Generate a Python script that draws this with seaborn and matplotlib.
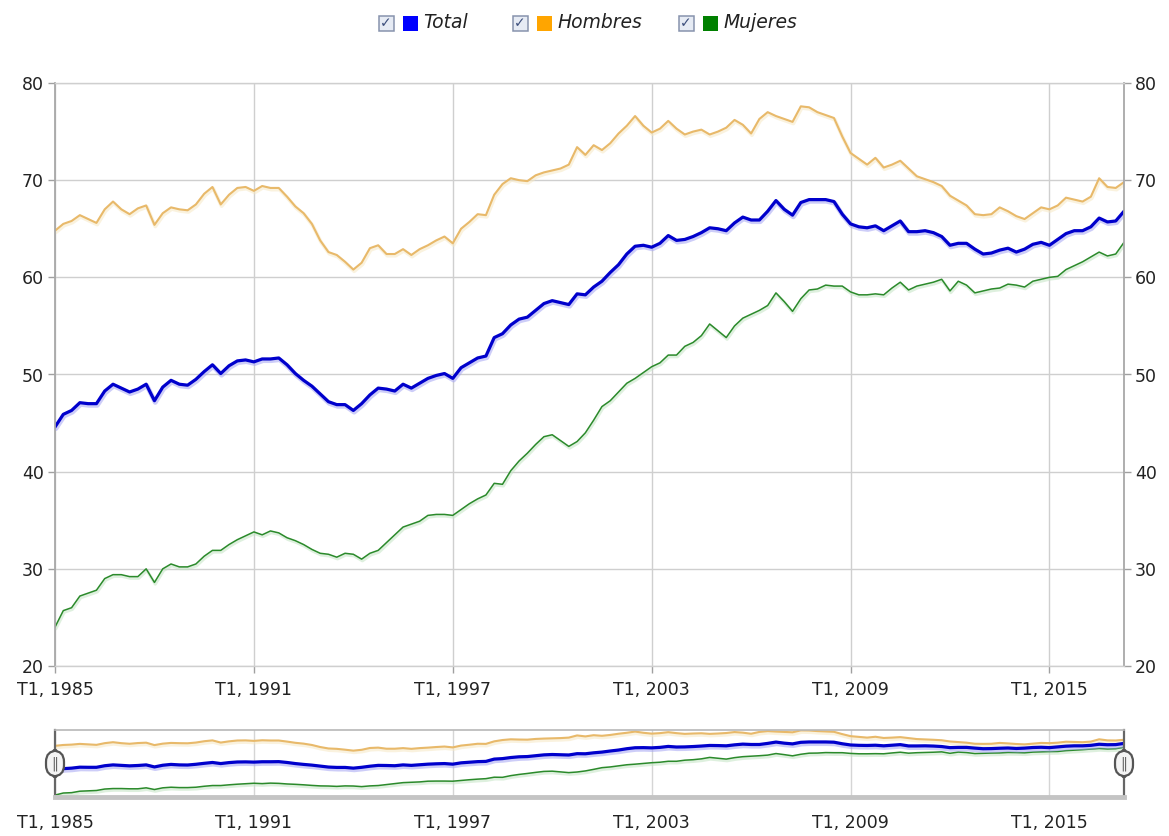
import numpy as np
import pandas as pd
import matplotlib
matplotlib.use("Agg")
import matplotlib.pyplot as plt
import matplotlib.patheffects as pe
from matplotlib.patches import Rectangle
import seaborn as sns

# Tasa trimestral, T1 1985 - T2 2017
anio_inicio = 1985

total = [
    44.6, 45.9, 46.3, 47.1, 47.0, 47.0, 48.3, 49.0, 48.6, 48.2,
    48.5, 49.0, 47.3, 48.7, 49.4, 49.0, 48.9, 49.5, 50.3, 51.0,
    50.1, 50.9, 51.4, 51.5, 51.3, 51.6, 51.6, 51.7, 51.0, 50.1,
    49.4, 48.8, 48.0, 47.2, 46.9, 46.9, 46.3, 47.0, 47.9, 48.6,
    48.5, 48.3, 49.0, 48.6, 49.1, 49.6, 49.9, 50.1, 49.6, 50.7,
    51.2, 51.7, 51.9, 53.8, 54.2, 55.1, 55.7, 55.9, 56.6, 57.3,
    57.6, 57.4, 57.2, 58.3, 58.2, 59.0, 59.6, 60.5, 61.3, 62.4,
    63.2, 63.3, 63.1, 63.5, 64.3, 63.8, 63.9, 64.2, 64.6, 65.1,
    65.0, 64.8, 65.6, 66.2, 65.9, 65.9, 66.8, 67.9, 67.0, 66.4,
    67.7, 68.0, 68.0, 68.0, 67.8, 66.5, 65.5, 65.2, 65.1, 65.3,
    64.8, 65.3, 65.8, 64.7, 64.7, 64.8, 64.6, 64.2, 63.3, 63.5,
    63.5, 62.9, 62.4, 62.5, 62.8, 63.0, 62.6, 62.9, 63.4, 63.6,
    63.3, 63.9, 64.5, 64.8, 64.8, 65.2, 66.1, 65.7, 65.8, 66.8,
]

hombres = [
    64.8, 65.5, 65.8, 66.4, 66.0, 65.6, 67.0, 67.8, 67.0, 66.5,
    67.1, 67.4, 65.4, 66.6, 67.2, 67.0, 66.9, 67.5, 68.6, 69.3,
    67.5, 68.5, 69.2, 69.3, 68.9, 69.4, 69.2, 69.2, 68.3, 67.3,
    66.6, 65.5, 63.8, 62.6, 62.3, 61.6, 60.8, 61.5, 63.0, 63.3,
    62.4, 62.4, 62.9, 62.3, 62.9, 63.3, 63.8, 64.2, 63.5, 65.0,
    65.7, 66.5, 66.4, 68.5, 69.6, 70.2, 70.0, 69.9, 70.5, 70.8,
    71.0, 71.2, 71.6, 73.4, 72.6, 73.6, 73.1, 73.8, 74.8, 75.6,
    76.6, 75.6, 74.9, 75.3, 76.1, 75.3, 74.7, 75.0, 75.2, 74.7,
    75.0, 75.4, 76.2, 75.7, 74.8, 76.3, 77.0, 76.6, 76.3, 76.0,
    77.6, 77.5, 77.0, 76.7, 76.4, 74.5, 72.8, 72.2, 71.6, 72.3,
    71.3, 71.6, 72.0, 71.2, 70.4, 70.1, 69.8, 69.4, 68.4, 67.9,
    67.4, 66.5, 66.4, 66.5, 67.2, 66.8, 66.3, 66.0, 66.6, 67.2,
    67.0, 67.4, 68.2, 68.0, 67.8, 68.3, 70.2, 69.3, 69.2, 69.8,
]

mujeres = [
    24.0, 25.7, 26.0, 27.2, 27.5, 27.8, 29.0, 29.4, 29.4, 29.2,
    29.2, 30.0, 28.6, 30.0, 30.5, 30.2, 30.2, 30.5, 31.3, 31.9,
    31.9, 32.5, 33.0, 33.4, 33.8, 33.5, 33.9, 33.7, 33.2, 32.9,
    32.5, 32.0, 31.6, 31.5, 31.2, 31.6, 31.5, 31.0, 31.6, 31.9,
    32.7, 33.5, 34.3, 34.6, 34.9, 35.5, 35.6, 35.6, 35.5, 36.1,
    36.7, 37.2, 37.6, 38.8, 38.7, 40.1, 41.1, 41.9, 42.8, 43.6,
    43.8, 43.2, 42.6, 43.1, 44.0, 45.3, 46.7, 47.3, 48.2, 49.1,
    49.6, 50.2, 50.8, 51.2, 52.0, 52.0, 52.9, 53.3, 54.0, 55.2,
    54.5, 53.8, 55.0, 55.8, 56.2, 56.6, 57.1, 58.4, 57.5, 56.5,
    57.8, 58.7, 58.8, 59.2, 59.1, 59.1, 58.5, 58.2, 58.2, 58.3,
    58.2, 58.9, 59.5, 58.7, 59.1, 59.3, 59.5, 59.8, 58.6, 59.6,
    59.2, 58.4, 58.6, 58.8, 58.9, 59.3, 59.2, 59.0, 59.6, 59.8,
    60.0, 60.1, 60.8, 61.2, 61.6, 62.1, 62.6, 62.2, 62.4, 63.6,
]

anios_ticks = [1985, 1991, 1997, 2003, 2009, 2015]
series = ["Total", "Hombres", "Mujeres"]
color_linea = {"Total": "#0000cc", "Hombres": "#e8b96a", "Mujeres": "#2b8a2b"}
color_leyenda = {"Total": "#0000ff", "Hombres": "#ffa500", "Mujeres": "#008000"}
grosor = {"Total": 2.3, "Hombres": 1.5, "Mujeres": 1.1}
sombra = {"Total": "#a4a4f4", "Hombres": "#f6e8c4", "Mujeres": "#c4e4c4"}

n = len(total)
assert len(hombres) == n and len(mujeres) == n
periodos = [f"T{i % 4 + 1}, {anio_inicio + i // 4}" for i in range(n)]
df = pd.DataFrame({"idx": np.arange(n), "periodo": periodos,
                   "Total": total, "Hombres": hombres, "Mujeres": mujeres})
df_long = df.melt(id_vars=["idx", "periodo"], value_vars=series,
                  var_name="serie", value_name="tasa")

sns.set_theme(style="white")
plt.rcParams["font.family"] = ["DejaVu Sans"]

W, H = 1169, 836
fig = plt.figure(figsize=(W / 100, H / 100), dpi=100)


def fx(x):
    return x / W


def fy(y):
    return 1 - y / H


def dibujar_series(ax):
    for nombre in ["Hombres", "Mujeres", "Total"]:
        sub = df_long[df_long["serie"] == nombre]
        sns.lineplot(data=sub, x="idx", y="tasa", color=color_linea[nombre],
                     lw=grosor[nombre], errorbar=None, legend=False, ax=ax)
        ax.lines[-1].set_path_effects([
            pe.SimpleLineShadow(offset=(0.6, -1.2), shadow_color=sombra[nombre],
                                alpha=0.55, linewidth=grosor[nombre] + 1.2),
            pe.Normal(),
        ])


pos_ticks = [(a - anio_inicio) * 4 for a in anios_ticks]
etq_ticks = [f"T1, {a}" for a in anios_ticks]

# --- grafico principal ---
ax = fig.add_axes([fx(55), fy(666), fx(1124) - fx(55), fy(83) - fy(666)])
dibujar_series(ax)
ax.set_xlim(0, n - 1)
ax.set_ylim(20, 80)
ax.set_yticks(range(20, 81, 10))
ax.set_xticks(pos_ticks)
ax.set_xticklabels(etq_ticks)
ax.set_xlabel("")
ax.set_ylabel("")
ax.grid(True, color="#cfcfcf", lw=1)
ax.tick_params(axis="y", left=True, right=True, labelleft=True, labelright=True,
               length=5, width=1, color="#a0a0a0", labelsize=12.5,
               labelcolor="#222222", pad=3)
ax.tick_params(axis="x", bottom=True, length=5, width=1, color="#a0a0a0",
               labelsize=12.5, labelcolor="#222222", pad=6)
for lado in ["left", "right"]:
    ax.spines[lado].set_color("#a8a8a8")
    ax.spines[lado].set_linewidth(1.3)
for lado in ["top", "bottom"]:
    ax.spines[lado].set_color("#cfcfcf")
    ax.spines[lado].set_linewidth(1)

# --- navegador ---
nav = fig.add_axes([fx(55), fy(797), fx(1124) - fx(55), fy(730) - fy(797)])
dibujar_series(nav)
vmin = min(min(total), min(hombres), min(mujeres))
vmax = max(max(total), max(hombres), max(mujeres))
nav.set_xlim(0, n - 1)
nav.set_ylim(vmin - 1.6, vmax + 0.3)
nav.set_yticks([])
nav.set_xticks(pos_ticks)
nav.set_xticklabels(etq_ticks)
nav.set_xlabel("")
nav.set_ylabel("")
nav.grid(True, axis="x", color="#d5d5d5", lw=1)
nav.tick_params(axis="x", length=0, labelsize=12.5, labelcolor="#222222", pad=12)
nav.spines["top"].set_color("#b8b8b8")
nav.spines["top"].set_linewidth(1.2)
nav.spines["bottom"].set_color("#c4c4c4")
nav.spines["bottom"].set_linewidth(3.5)
for lado in ["left", "right"]:
    nav.spines[lado].set_color("#666666")
    nav.spines[lado].set_linewidth(1.6)
for xa in [0, 1]:
    nav.text(xa, 0.5, "\u2016", transform=nav.transAxes, ha="center", va="center",
             fontsize=10, color="#666666", zorder=10,
             bbox=dict(boxstyle="round,pad=0.4,rounding_size=0.8",
                       fc="#f4f4f4", ec="#555555", lw=1.6))

# --- leyenda superior con casillas ---
ley_y = 23
leyenda_x = {"Total": 386, "Hombres": 520, "Mujeres": 686}
for nombre in series:
    x0 = leyenda_x[nombre]
    caja = 15
    fig.add_artist(Rectangle((fx(x0 - caja / 2), fy(ley_y + caja / 2)), fx(caja), caja / H,
                             transform=fig.transFigure, fc="#e6ebf4", ec="#8793ad", lw=1.1))
    fig.text(fx(x0), fy(ley_y), "\u2713", ha="center", va="center",
             fontsize=10, color="#3d4f7c", fontweight="bold")
    cuadro = 15
    cx = x0 + 24
    fig.add_artist(Rectangle((fx(cx - cuadro / 2), fy(ley_y + cuadro / 2)), fx(cuadro), cuadro / H,
                             transform=fig.transFigure, fc=color_leyenda[nombre], ec="none"))
    fig.text(fx(cx + 13), fy(ley_y), nombre, ha="left", va="center",
             fontsize=13.5, style="italic", color="#222222")

fig.savefig("out.png", dpi=100)
